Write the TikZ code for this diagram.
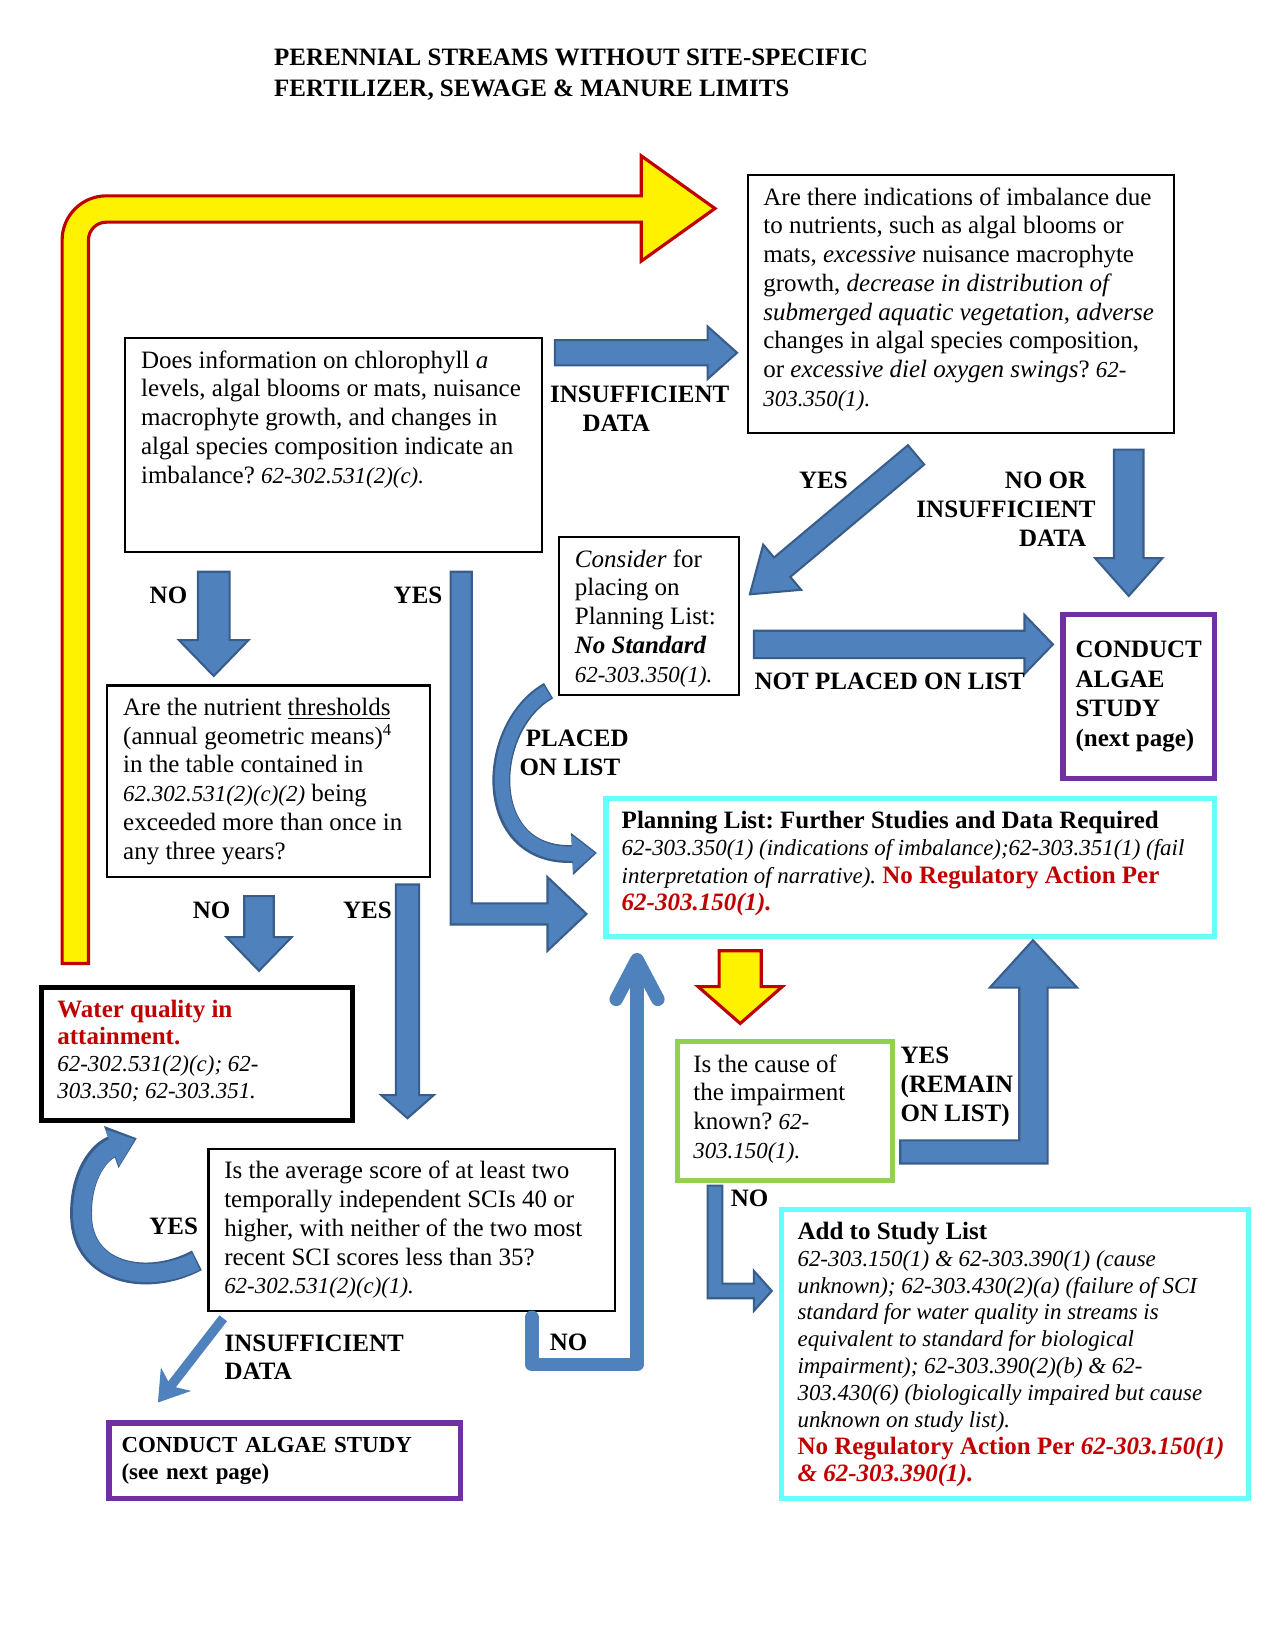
\documentclass[tikz,border=0pt]{standalone}
\usepackage{fontspec}
\setmainfont{Liberation Serif}
\usetikzlibrary{arrows.meta}
\frenchspacing

\newdimen\px \px=0.5054pt
\definecolor{blkfill}{HTML}{4F81BD}
\definecolor{blkedge}{HTML}{385D8A}
\definecolor{ylwedge}{HTML}{C00000}
\definecolor{dred}{HTML}{C00000}
\definecolor{algpurple}{HTML}{7030A0}
\definecolor{plancyan}{HTML}{66FFFF}
\definecolor{causegreen}{HTML}{92D050}

% text of a box, top aligned (width and height in px)
\newcommand{\boxtxt}[3]{\parbox[t][\dimexpr#2\px-24\px\relax][t]{\dimexpr#1\px-30\px\relax}{\raggedright #3}}
\newcommand{\rf}[1]{{\fontsize{11}{13}\selectfont\itshape #1}}

\tikzset{
  pics/barrow/.style args={#1/#2/#3/#4}{code={
    \path[pic actions] (0,-#2) -- (#1,-#2) -- (#1,-#3) -- (#1+#4,0) -- (#1,#3) -- (#1,#2) -- (0,#2) -- cycle;
  }},
}

\begin{document}
\begin{tikzpicture}[x=0.5054pt, y=-0.5054pt,
  box/.style={draw, line width=1pt, anchor=north west, inner xsep=15*\px, inner ysep=12*\px, font=\fontsize{12}{13.8}\selectfont},
  thickbox/.style={box, line width=2.5pt},
  lbl/.style={font=\bfseries\fontsize{12}{13.8}\selectfont, inner sep=0},
  blk/.style={fill=blkfill, draw=blkedge, line width=1pt, line join=miter},
  ylw/.style={fill=yellow, draw=ylwedge, line width=1.5pt, line join=miter},
]
\fill[white] (0,0) rectangle (1211,1568);
\useasboundingbox (0,0) rectangle (1211,1568);

% title
\node[lbl, anchor=north west, align=left, font=\bfseries\fontsize{12}{14.7}\selectfont] (title) at (260,46)
  {PERENNIAL STREAMS WITHOUT SITE-SPECIFIC\\FERTILIZER, SEWAGE \& MANURE LIMITS};

% boxes
\node[box] (does) at (118,320) {\boxtxt{396}{203}{Does information on chlorophyll \textit{a}\\
  levels, algal blooms or mats, nuisance\\ macrophyte growth, and changes in\\
  algal species composition indicate an\\ imbalance? \rf{62-302.531(2)(c).}}};

\node[box] (indic) at (709,165) {\boxtxt{405}{245}{Are there indications of imbalance due\\
  to nutrients, such as algal blooms or\\ mats, \textit{excessive} nuisance macrophyte\\
  growth, \textit{decrease in distribution of}\\ \textit{submerged aquatic vegetation}, \textit{adverse}\\
  changes in algal species composition,\\ or \textit{excessive diel oxygen swings}? \rf{62-}\\ \rf{303.350(1).}}};

\node[box] (consider) at (530,509) {\boxtxt{171}{150}{\textit{Consider} for\\ placing on\\ Planning List:\\
  \textbf{\textit{No Standard}}\\ \rf{62-303.350(1).}}};

\node[thickbox, draw=algpurple, inner sep=0, minimum width=144*\px, minimum height=156*\px, align=left,
  font=\bfseries\fontsize{12}{14.2}\selectfont] (algae1) at (1007,581) {CONDUCT\\ALGAE\\STUDY\\(next page)};

\node[thickbox, draw=plancyan, font=\fontsize{12}{13.2}\selectfont] (plan) at (573,756)
  {\boxtxt{578}{131}{\textbf{Planning List: Further Studies and Data Required}\\
  {\fontsize{11}{13}\selectfont\itshape 62-303.350(1) (indications of imbalance);62-303.351(1) (fail\\
  interpretation of narrative).} \textcolor{dred}{\textbf{No Regulatory Action Per}}\\
  \textcolor{dred}{\textbf{\textit{62-303.150(1).}}}}};

\node[box] (nutr) at (101,650) {\boxtxt{306}{182}{Are the nutrient \underline{thresholds}\\
  (annual geometric means)\textsuperscript{4}\\ in the table contained in\\
  \rf{62.302.531(2)(c)(2)} being\\ exceeded more than once in\\ any three years?}};

\node[thickbox, font=\fontsize{12}{13.1}\selectfont] (water) at (37,935) {\boxtxt{295}{127}{\textcolor{dred}{\textbf{Water quality in\\
  attainment.}}\\ \rf{62-302.531(2)(c); 62-\\ 303.350; 62-303.351.}}};

\node[box] (avg) at (197,1090) {\boxtxt{386}{154}{Is the average score of at least two\\
  temporally independent SCIs 40 or\\ higher, with neither of the two most\\
  recent SCI scores less than 35?\\ \rf{62-302.531(2)(c)(1).}}};

\node[thickbox, draw=algpurple, inner xsep=12*\px, inner ysep=0, text width=310*\px, minimum height=72*\px,
  align=left, font=\bfseries\fontsize{11}{12.8}\selectfont] (algae2) at (101,1349) {CONDUCT ALGAE STUDY\\(see next page)};

\node[thickbox, draw=causegreen] (cause) at (641,987) {\boxtxt{204}{132}{Is the cause of\\
  the impairment\\ known? \rf{62-}\\ \rf{303.150(1).}}};

\node[thickbox, draw=plancyan, font=\fontsize{12}{12.9}\selectfont] (study) at (740,1146)
  {\boxtxt{443}{275}{\textbf{Add to Study List}\\
  {\fontsize{11}{12.9}\selectfont\itshape 62-303.150(1) \& 62-303.390(1) (cause\\
  unknown); 62-303.430(2)(a) (failure of SCI\\ standard for water quality in streams is\\
  equivalent to standard for biological\\ impairment); 62-303.390(2)(b) \& 62-\\
  303.430(6) (biologically impaired but cause\\ unknown on study list).}\\
  \textcolor{dred}{\textbf{No Regulatory Action Per \textit{62-303.150(1)}\\ \textit{\& 62-303.390(1).}}}}};

% big yellow arrow
\draw[ylw] (59,915) -- (59,228) .. controls (59,204.8) and (77.8,186) .. (101,186) -- (609,186)
  -- (609,148) -- (679,198) -- (609,248) -- (609,211) -- (101,211)
  .. controls (91.6,211) and (84,218.6) .. (84,228) -- (84,915) -- cycle;

% straight block arrows
\pic[blk] at (527,335) {barrow=145/12/25/28};
\pic[blk, rotate=-140] at (870,432) {barrow=166/12/28/40};
\pic[blk, rotate=-90] at (1072,427) {barrow=103/14/32/36};
\pic[blk] at (716,612) {barrow=257/13/28/27};
\pic[blk, rotate=-90] at (203,543) {barrow=65/15/33/34};
\pic[blk, rotate=-90] at (246,851) {barrow=39/14/31/32};
\pic[blk, rotate=-90] at (387,840) {barrow=200/11/25/22};
\pic[ylw, rotate=-90] at (703,903) {barrow=34/20/40/35};

% bent block arrows
\draw[blk] (428,543) -- (448,543) -- (448,858) -- (520,858) -- (520,833) -- (557,868)
  -- (520,903) -- (520,878) -- (428,878) -- cycle;
\draw[blk] (855,1083) -- (968,1083) -- (968,938) -- (940,938) -- (981,893) -- (1023,938)
  -- (995,938) -- (995,1105) -- (855,1105) -- cycle;
\draw[blk] (672,1126) -- (686,1126) -- (686,1219) -- (716,1219) -- (716,1207) -- (733,1226)
  -- (716,1245) -- (716,1233) -- (672,1233) -- cycle;

% curved arrows
\draw[blkedge, line width=8.6pt, -{Triangle[length=12pt, width=19.5pt]}]
  (521,656) .. controls (460,690) and (455,815) .. (567,810);
\draw[blkfill, line width=6.8pt, -{Triangle[length=10.8pt, width=17pt]}]
  (520,657) .. controls (461,690) and (456,814) .. (565,810);
\draw[blkedge, line width=10.5pt, -{Triangle[length=13pt, width=20.5pt]}]
  (187,1197) .. controls (140,1222) and (78,1210) .. (77,1155) .. controls (76,1115) and (95,1093) .. (130,1081);
\draw[blkfill, line width=8.7pt, -{Triangle[length=11.6pt, width=18pt]}]
  (186,1198) .. controls (140,1221) and (79,1209) .. (78,1155) .. controls (77,1116) and (96,1094) .. (128,1082);

% thin arrows
\draw[blkfill, line width=4.6pt, -{Stealth[length=14pt, width=18pt, inset=4pt]}] (212,1252) -- (150,1332);
\draw[blkfill, line width=6.5pt, line join=round, line cap=round, -{Straight Barb[length=19pt, width=20pt, round]}]
  (505,1251) -- (505,1296) -- (605,1296) -- (605,905);

% labels
\node[lbl, anchor=north west, align=left] (insuf1) at (522,366) {INSUFFICIENT\\\hspace*{31\px}DATA};
\node[lbl] (yes1) at (782,456) {YES};
\node[lbl, anchor=north east, align=right] (noor) at (1041,448) {NO OR\hspace*{9\px}\\INSUFFICIENT\\DATA\hspace*{9\px}};
\node[lbl] (notpl) at (845,647) {NOT PLACED ON LIST};
\node[lbl, anchor=north west, align=left] (placed) at (493,693) {\hspace*{6\px}PLACED\\ON LIST};
\node[lbl] (no1) at (160,565) {NO};
\node[lbl] (yes2) at (397,565) {YES};
\node[lbl] (no2) at (201,865) {NO};
\node[lbl] (yes3) at (349,865) {YES};
\node[lbl] (yes4) at (165,1165) {YES};
\node[lbl, anchor=north west, align=left] (insuf2) at (213,1267) {INSUFFICIENT\\DATA};
\node[lbl] (no3) at (540,1275) {NO};
\node[lbl, anchor=north west, align=left] (remain) at (855,994) {YES\\(REMAIN\\ON LIST)};
\node[lbl] (no4) at (712,1138) {NO};
\end{tikzpicture}
\end{document}
